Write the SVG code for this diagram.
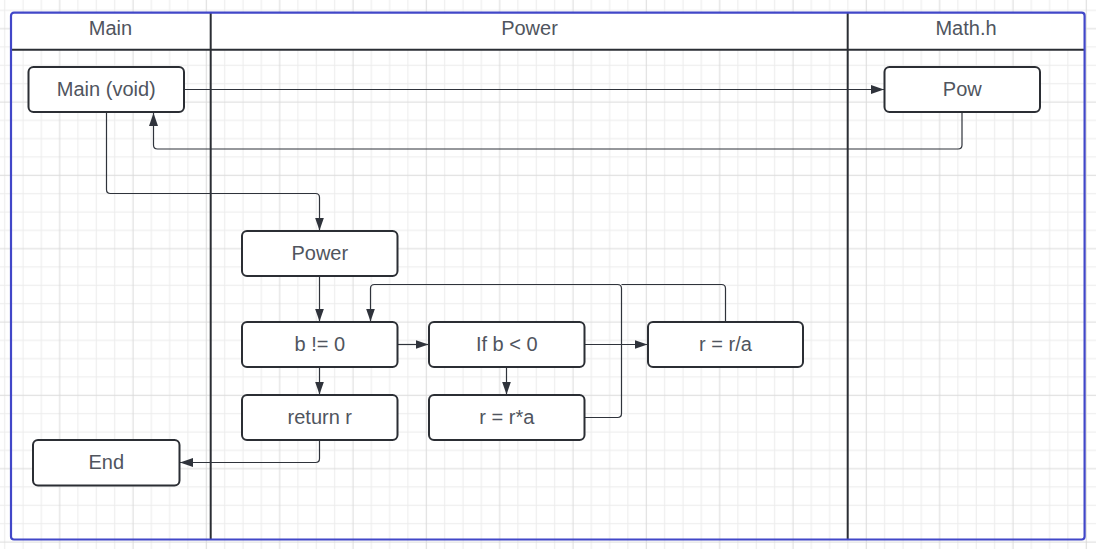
<svg xmlns="http://www.w3.org/2000/svg" width="1096" height="549" viewBox="0 0 1096 549">
  <defs>
    <pattern id="grid" patternUnits="userSpaceOnUse" x="50.5" y="19.5" width="73.33" height="73.33">
      <path d="M27.5,0 V73.33 M45.83,0 V73.33 M64.17,0 V73.33 M0,27.5 H73.33 M0,45.83 H73.33 M0,64.17 H73.33" stroke="#ececec" stroke-width="1" fill="none"/>
      <path d="M9.17,0 V73.33 M0,9.17 H73.33" stroke="#dadada" stroke-width="1" fill="none"/>
    </pattern>
    <marker id="arr" markerUnits="userSpaceOnUse" markerWidth="14" markerHeight="10" refX="13" refY="4.5" orient="auto">
      <path d="M0,0 L13,4.5 L0,9 z" fill="#2f333b"/>
    </marker>
    <style>
      .node rect { fill: #ffffff; stroke: #2b2e34; stroke-width: 2; }
      .lbl { font-family: "Liberation Sans", Arial, sans-serif; font-size: 20px; fill: #50555e; text-anchor: middle; }
      .conn path { fill: none; stroke: #2f333b; stroke-width: 1.2; }
      .lane { stroke: #2b2e34; stroke-width: 2; fill: none; }
    </style>
  </defs>

  <rect x="0" y="0" width="1096" height="549" fill="#ffffff"/>
  <rect x="0" y="0" width="1096" height="549" fill="url(#grid)"/>

  <g id="pool">
    <rect x="11" y="13" width="1073.5" height="36.5" fill="#ffffff"/>
    <path class="lane" d="M11,49.7 H1084.5"/>
    <path class="lane" d="M210.7,13 V539.5"/>
    <path class="lane" d="M847.7,13 V539.5"/>
    <rect x="11" y="12.7" width="1073.6" height="526.8" rx="3" fill="none" stroke="#4147c8" stroke-width="2.2"/>
    <text class="lbl" x="110.5" y="35">Main</text>
    <text class="lbl" x="529.5" y="35">Power</text>
    <text class="lbl" x="966" y="35">Math.h</text>
  </g>

  <g id="connectors" class="conn">
    <path d="M184.5,89.5 H884" marker-end="url(#arr)"/>
    <path d="M962,112.5 V145 Q962,149 958,149 H157.5 Q153.5,149 153.5,145 V113" marker-end="url(#arr)"/>
    <path d="M106.5,112.5 V189.5 Q106.5,193.5 110.5,193.5 H315.5 Q319.5,193.5 319.5,197.5 V230.5" marker-end="url(#arr)"/>
    <path d="M319.5,276.5 V321.5" marker-end="url(#arr)"/>
    <path d="M397.5,344.5 H428.5" marker-end="url(#arr)"/>
    <path d="M506.5,367.5 V394.5" marker-end="url(#arr)"/>
    <path d="M319.5,367.5 V394.5" marker-end="url(#arr)"/>
    <path d="M584.5,344.5 H647.5" marker-end="url(#arr)"/>
    <path d="M584.5,417.5 H617.5 Q621.5,417.5 621.5,413.5 V288.5 Q621.5,284.5 617.5,284.5 H374.5 Q370.5,284.5 370.5,288.5 V321.5" marker-end="url(#arr)"/>
    <path d="M725.5,322 V288.5 Q725.5,284.5 721.5,284.5 H621.5"/>
    <path d="M319.5,440.5 V458.5 Q319.5,462.5 315.5,462.5 H180" marker-end="url(#arr)"/>
  </g>

  <g id="node-main-void" class="node">
    <rect x="28.5" y="67" width="155.5" height="45" rx="5"/>
    <text class="lbl" x="106.3" y="95.7">Main (void)</text>
  </g>
  <g id="node-pow" class="node">
    <rect x="884.5" y="67" width="155.5" height="45" rx="5"/>
    <text class="lbl" x="962.3" y="95.7">Pow</text>
  </g>
  <g id="node-power" class="node">
    <rect x="242" y="231" width="155.5" height="45" rx="5"/>
    <text class="lbl" x="319.8" y="259.7">Power</text>
  </g>
  <g id="node-b-ne-0" class="node">
    <rect x="242" y="322" width="155.5" height="45" rx="5"/>
    <text class="lbl" x="319.8" y="350.7">b != 0</text>
  </g>
  <g id="node-if-b-lt-0" class="node">
    <rect x="429" y="322" width="155.5" height="45" rx="5"/>
    <text class="lbl" x="506.8" y="350.7">If b &lt; 0</text>
  </g>
  <g id="node-r-div" class="node">
    <rect x="648" y="322" width="155" height="45" rx="5"/>
    <text class="lbl" x="725.5" y="350.7">r = r/a</text>
  </g>
  <g id="node-return" class="node">
    <rect x="242" y="395" width="155.5" height="45" rx="5"/>
    <text class="lbl" x="319.8" y="423.7">return r</text>
  </g>
  <g id="node-r-mul" class="node">
    <rect x="429" y="395" width="155.5" height="45" rx="5"/>
    <text class="lbl" x="506.8" y="423.7">r = r*a</text>
  </g>
  <g id="node-end" class="node">
    <rect x="33" y="440" width="146.5" height="45.5" rx="5"/>
    <text class="lbl" x="106.3" y="468.7">End</text>
  </g>
</svg>
